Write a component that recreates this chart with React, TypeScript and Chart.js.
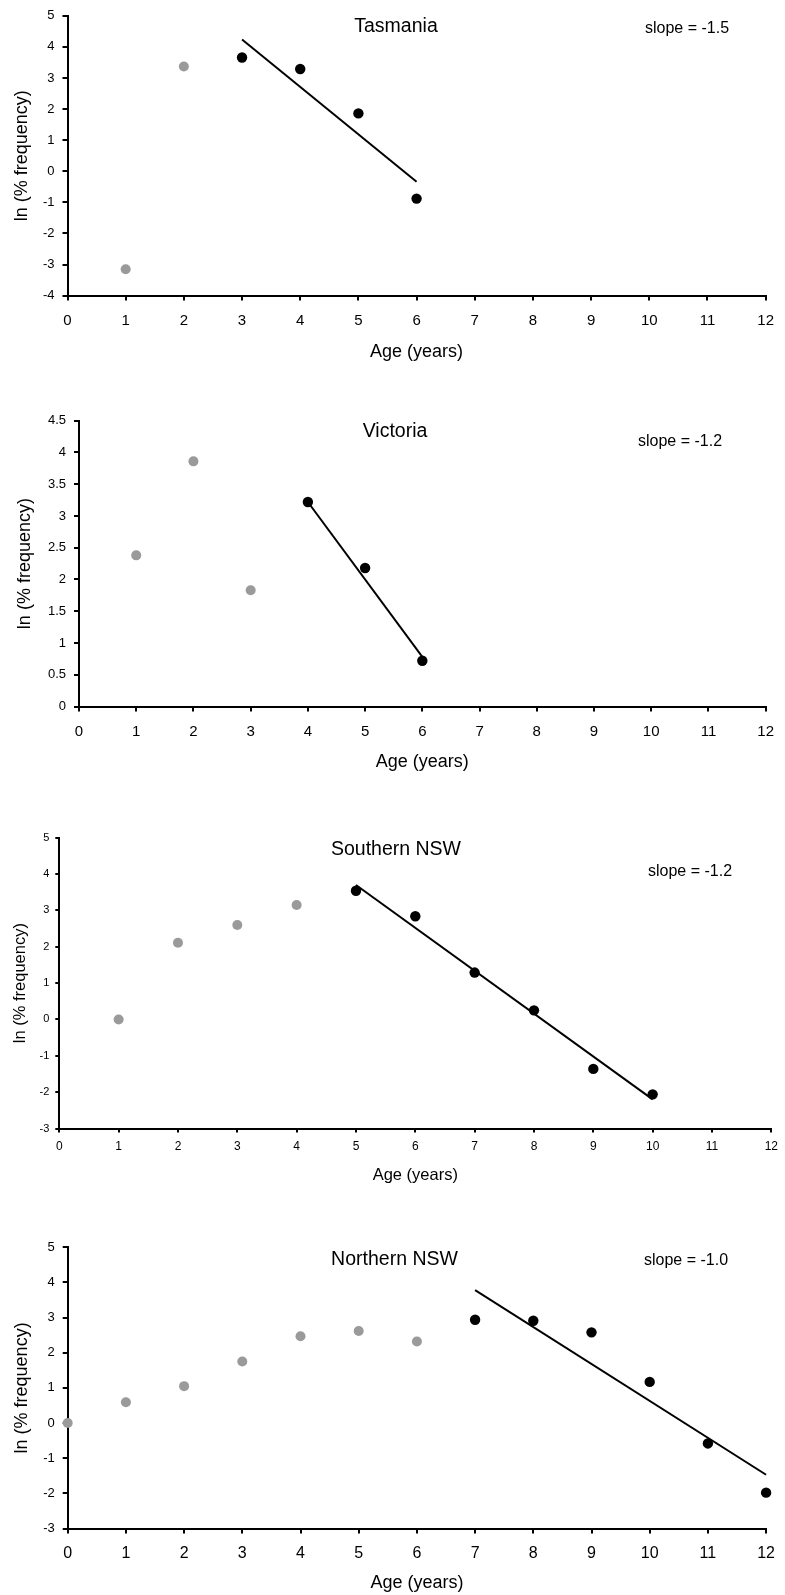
import React, { useEffect, useRef } from "react";
import { Chart, registerables } from "chart.js";

Chart.register(...registerables);

const FONT = "'Liberation Sans', Arial, Helvetica, sans-serif";

// ---------- data ----------
const xTickMin = 0;
const xTickMax = 12;
const xTickStep = 1;

// Tasmania
const tasGrayAges = [1, 2];
const tasGrayVals = [-3.15, 3.37];
const tasAges = [3, 4, 5, 6];
const tasVals = [3.66, 3.29, 1.86, -0.88];
const tasFitAges = [3, 6];
const tasFitVals = [4.24, -0.34];

// Victoria
const vicGrayAges = [1, 2, 3];
const vicGrayVals = [2.38, 3.86, 1.83];
const vicAges = [4, 5, 6];
const vicVals = [3.22, 2.18, 0.72];
const vicFitAges = [4, 6];
const vicFitVals = [3.22, 0.78];

// Southern NSW
const snswGrayAges = [1, 2, 3, 4];
const snswGrayVals = [0.0, 2.11, 2.6, 3.15];
const snswAges = [5, 6, 7, 8, 9, 10];
const snswVals = [3.54, 2.84, 1.29, 0.25, -1.36, -2.06];
const snswFitAges = [5, 10];
const snswFitVals = [3.7, -2.2];

// Northern NSW
const nnswGrayAges = [0, 1, 2, 3, 4, 5, 6];
const nnswGrayVals = [0.0, 0.59, 1.05, 1.75, 2.47, 2.62, 2.32];
const nnswAges = [7, 8, 9, 10, 11, 12];
const nnswVals = [2.94, 2.91, 2.58, 1.17, -0.58, -1.98];
const nnswFitAges = [7, 12];
const nnswFitVals = [3.78, -1.47];

const panelTitles = ["Tasmania", "Victoria", "Southern NSW", "Northern NSW"];
const slopeLabels = ["slope = -1.5", "slope = -1.2", "slope = -1.2", "slope = -1.0"];
const yMins = [-4, 0, -3, -3];
const yMaxs = [5, 4.5, 5, 5];
const ySteps = [1, 0.5, 1, 1];
const xAxisTitle = "Age (years)";
const yAxisTitle = "ln (% frequency)";

const pairs = (xs: number[], ys: number[]) => xs.map((x, i) => ({ x, y: ys[i] }));

const seriesData = [
  { gray: pairs(tasGrayAges, tasGrayVals), black: pairs(tasAges, tasVals), fit: pairs(tasFitAges, tasFitVals) },
  { gray: pairs(vicGrayAges, vicGrayVals), black: pairs(vicAges, vicVals), fit: pairs(vicFitAges, vicFitVals) },
  { gray: pairs(snswGrayAges, snswGrayVals), black: pairs(snswAges, snswVals), fit: pairs(snswFitAges, snswFitVals) },
  { gray: pairs(nnswGrayAges, nnswGrayVals), black: pairs(nnswAges, nnswVals), fit: pairs(nnswFitAges, nnswFitVals) },
];

// ---------- layout ----------
const W = 785;
type Layout = {
  top: number; height: number;
  L: number; R: number; T: number; B: number;
  titleX: number; titleY: number; slopeX: number; slopeY: number;
  xTitleY: number; yTitleX: number;
  xTickSize: number; yTickSize: number; xTickPad: number; yTickPad: number; tickLen: number;
  titleSize: number; slopeSize: number; axisTitleSize: number;
};

const layouts: Layout[] = [
  { top: 0, height: 380, L: 67.5, R: 772.5, T: 15.7, B: 295.6, titleX: 396, titleY: 26.7, slopeX: 687, slopeY: 29,
    xTitleY: 351.7, yTitleX: 22.5, xTickSize: 15, yTickSize: 13, xTickPad: 11, yTickPad: 8, tickLen: 5,
    titleSize: 19.5, slopeSize: 16, axisTitleSize: 18 },
  { top: 380, height: 410, L: 79, R: 770, T: 40.7, B: 326.5, titleX: 395, titleY: 51.7, slopeX: 680, slopeY: 61.7,
    xTitleY: 381.7, yTitleX: 25, xTickSize: 15, yTickSize: 13, xTickPad: 11, yTickPad: 8, tickLen: 5,
    titleSize: 19.5, slopeSize: 16, axisTitleSize: 18 },
  { top: 790, height: 400, L: 59.3, R: 775, T: 47.7, B: 338.5, titleX: 396, titleY: 60, slopeX: 690, slopeY: 81.7,
    xTitleY: 385, yTitleX: 20, xTickSize: 12, yTickSize: 11, xTickPad: 7, yTickPad: 6, tickLen: 4,
    titleSize: 19.5, slopeSize: 16, axisTitleSize: 16.5 },
  { top: 1190, height: 405, L: 67.7, R: 772.5, T: 57.3, B: 338.5, titleX: 394.5, titleY: 69.3, slopeX: 686, slopeY: 71,
    xTitleY: 393, yTitleX: 22.5, xTickSize: 16, yTickSize: 13, xTickPad: 10, yTickPad: 8, tickLen: 5,
    titleSize: 19.5, slopeSize: 16, axisTitleSize: 18 },
];

const XH = 30;

function Panel({ idx }: { idx: number }) {
  const ref = useRef<HTMLCanvasElement | null>(null);
  useEffect(() => {
    if (!ref.current) return;
    const lay = layouts[idx];
    const d = seriesData[idx];
    const textPlugin = {
      id: "panelText" + idx,
      afterDraw(chart: any) {
        const ctx = chart.ctx;
        const a = chart.chartArea;
        ctx.save();
        ctx.fillStyle = "#000";
        ctx.textAlign = "center";
        ctx.textBaseline = "middle";
        ctx.font = `${lay.titleSize}px ${FONT}`;
        ctx.fillText(panelTitles[idx], lay.titleX, lay.titleY);
        ctx.font = `${lay.slopeSize}px ${FONT}`;
        ctx.fillText(slopeLabels[idx], lay.slopeX, lay.slopeY);
        ctx.font = `${lay.axisTitleSize}px ${FONT}`;
        ctx.fillText(xAxisTitle, (a.left + a.right) / 2, lay.xTitleY);
        ctx.translate(lay.yTitleX, (a.top + a.bottom) / 2);
        ctx.rotate(-Math.PI / 2);
        ctx.fillText(yAxisTitle, 0, 0);
        ctx.restore();
      },
    };
    const fmt = (v: any) => String(Math.round(Number(v) * 100) / 100);
    const chart = new Chart(ref.current, {
      type: "scatter",
      data: {
        datasets: [
          {
            data: d.gray, pointRadius: 5, pointBackgroundColor: "#9a9a9a", pointBorderWidth: 0,
            borderColor: "#9a9a9a", showLine: false, clip: false,
          } as any,
          {
            data: d.black, pointRadius: 5.2, pointBackgroundColor: "#000", pointBorderWidth: 0,
            borderColor: "#000", showLine: false, clip: false,
          } as any,
          {
            data: d.fit, showLine: true, borderColor: "#000", borderWidth: 2, pointRadius: 0,
            fill: false, clip: false,
          } as any,
        ],
      },
      options: {
        responsive: false,
        animation: false,
        events: [],
        layout: {
          padding: { left: 0, right: W - lay.R, top: lay.T, bottom: lay.height - lay.B - XH },
        },
        plugins: { legend: { display: false }, tooltip: { enabled: false }, title: { display: false } },
        scales: {
          x: {
            type: "linear", min: xTickMin, max: xTickMax,
            afterFit: (s: any) => { s.height = XH; },
            ticks: { stepSize: xTickStep, color: "#000", font: { family: FONT, size: lay.xTickSize },
              padding: lay.xTickPad, maxRotation: 0, autoSkip: false, callback: fmt },
            grid: { drawOnChartArea: false, drawTicks: true, tickLength: lay.tickLen, color: "#000", lineWidth: 2 },
            border: { display: true, color: "#000", width: 2 },
          },
          y: {
            type: "linear", min: yMins[idx], max: yMaxs[idx],
            afterFit: (s: any) => { s.width = lay.L; },
            ticks: { stepSize: ySteps[idx], color: "#000", font: { family: FONT, size: lay.yTickSize },
              padding: lay.yTickPad, autoSkip: false, callback: fmt },
            grid: { drawOnChartArea: false, drawTicks: true, tickLength: lay.tickLen, color: "#000", lineWidth: 2 },
            border: { display: true, color: "#000", width: 2 },
          },
        },
      } as any,
      plugins: [textPlugin],
    });
    return () => chart.destroy();
  }, [idx]);
  const lay = layouts[idx];
  return (
    <div style={{ position: "absolute", left: 0, top: lay.top, width: W, height: lay.height }}>
      <canvas ref={ref} width={W} height={lay.height} style={{ display: "block", width: W, height: lay.height }} />
    </div>
  );
}

export default function App() {
  return (
    <div style={{ position: "absolute", left: 0, top: 0, width: W, height: 1595, background: "#fff" }}>
      {[0, 1, 2, 3].map((i) => (
        <Panel key={i} idx={i} />
      ))}
    </div>
  );
}
